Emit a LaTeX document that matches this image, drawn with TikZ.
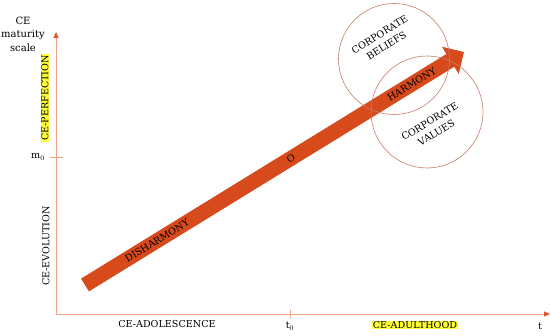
\documentclass[tikz,border=0pt]{standalone}
\usepackage{fontspec}
\setmainfont{DejaVu Serif}
\usetikzlibrary{arrows.meta}
\definecolor{axisc}{HTML}{F2A488}
\definecolor{tipc}{HTML}{E2572B}
\definecolor{bigc}{HTML}{D64A1C}
\definecolor{circc}{HTML}{C97B6A}
\definecolor{hl}{HTML}{FFFF33}
\begin{document}
\begin{tikzpicture}[x=1pt,y=-1pt,
  every node/.style={font=\fontsize{9.6}{12}\selectfont, inner sep=1pt},
  axisline/.style={draw=axisc, line width=0.9pt},
  axisarrow/.style={axisline, -{Triangle[length=6pt,width=5pt,color=tipc]}},
  ringc/.style={circle, draw=circc, line width=0.6pt},
  hlbox/.style={fill=hl, inner sep=0.8pt}]
\useasboundingbox (0,0) rectangle (550,336);
% axes
\coordinate (o) at (56,314);
\coordinate (ytop) at (56,32);
\coordinate (xend) at (550,314);
\draw[axisarrow] (o) -- (ytop);
\draw[axisarrow] (o) -- (xend);
\coordinate (m0a) at (50,157);
\coordinate (m0b) at (63,157);
\draw[axisline] (m0a) -- (m0b);
\coordinate (t0a) at (290,310);
\coordinate (t0b) at (290,318);
\draw[axisline] (t0a) -- (t0b);
% labels
\node[align=center, font=\fontsize{10}{13.5}\selectfont] (scale) at (23,34) {CE\\maturity\\scale};
\node[rotate=90, hlbox] (perf) at (45,98) {CE-PERFECTION};
\node[rotate=90] (evol) at (46,246) {CE-EVOLUTION};
\node (m0) at (38,157) {m$_0$};
\node (adol) at (167,324) {CE-ADOLESCENCE};
\node (t0) at (290,326) {t$_0$};
\node[hlbox] (adult) at (415,325) {CE-ADULTHOOD};
\node (t) at (540,326) {t};
% big arrow
\coordinate (tail) at (85,285);
\coordinate (tip) at (464,52);
\draw[bigc, line width=15pt, -{Triangle[length=16pt,width=31pt]}] (tail) -- (tip);
\path (tail) -- (tip)
  node[pos=0.19, sloped] (dis) {DISHARMONY}
  node[pos=0.543, sloped] (oo) {O}
  node[pos=0.862, sloped] (harm) {HARMONY};
% circles
\node[ringc, minimum size=111pt] (beliefs) at (394,59) {};
\node[ringc, minimum size=112pt] (values) at (427,112) {};
\node[rotate=32, align=center, font=\fontsize{9.6}{13}\selectfont] (bt) at (383,40) {CORPORATE\\BELIEFS};
\node[rotate=31, align=center, font=\fontsize{9.6}{13}\selectfont] (vt) at (433,127) {CORPORATE\\VALUES};
\end{tikzpicture}
\end{document}
